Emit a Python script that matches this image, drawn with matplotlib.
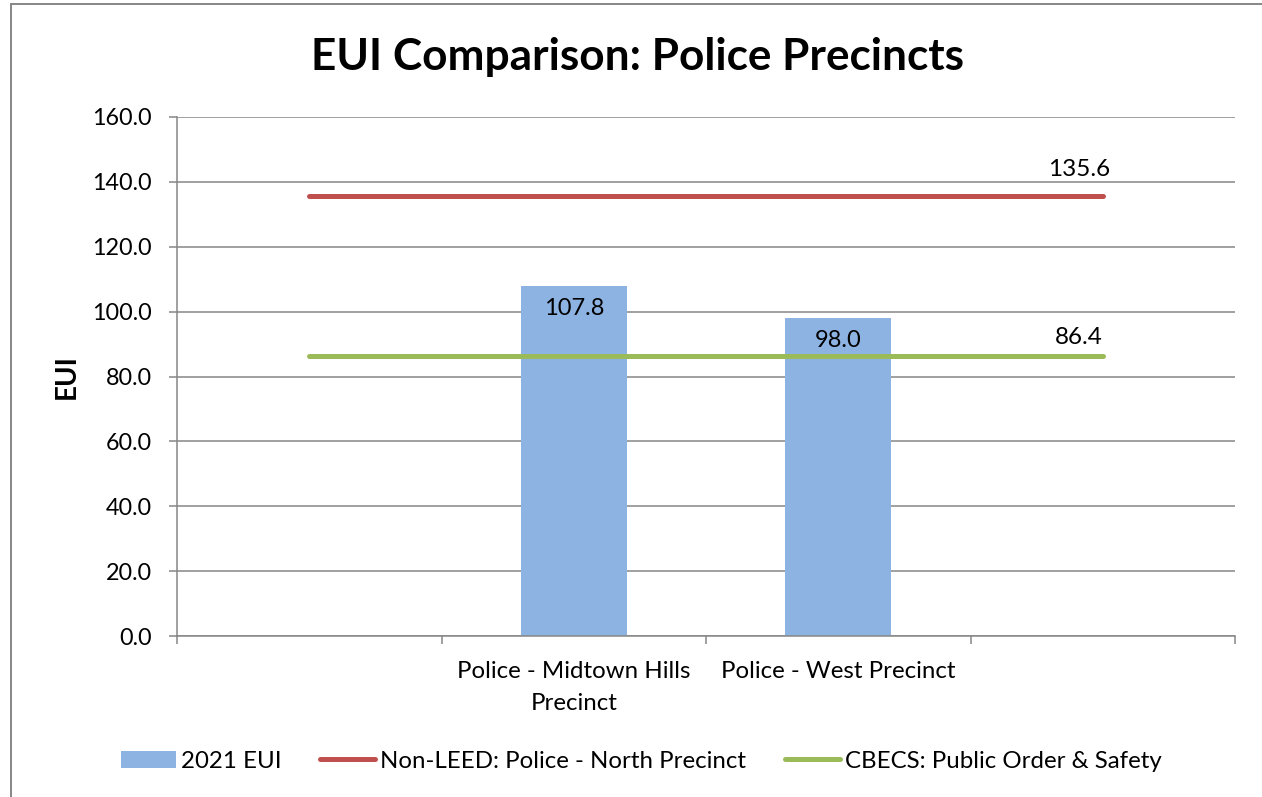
import matplotlib
matplotlib.use("Agg")
import matplotlib.pyplot as plt
from matplotlib.patches import Rectangle
from matplotlib.lines import Line2D
from matplotlib.patches import Patch

plt.rcParams['font.family'] = ['Lato', 'DejaVu Sans']

# chart data
categories = ["", "Police - Midtown Hills\nPrecinct", "Police - West Precinct", ""]
eui_2021 = [None, 107.8, 98.0, None]
non_leed_north = [135.6, 135.6, 135.6, 135.6]
cbecs_public_safety = [86.4, 86.4, 86.4, 86.4]
y_ticks = [0, 20, 40, 60, 80, 100, 120, 140, 160]

BLUE = "#8DB3E2"
RED = "#C0504D"
GREEN = "#9BBB59"
GRAY = "#868686"

fig = plt.figure(figsize=(12.62, 7.97), dpi=100)
ax = fig.add_axes([0.1403, 0.202, 0.8383, 0.6512])

x = list(range(len(categories)))
bar_x = [i for i, v in zip(x, eui_2021) if v is not None]
bar_v = [v for v in eui_2021 if v is not None]
bars = ax.bar(bar_x, bar_v, width=0.4, color=BLUE, zorder=2)
for bx, bv in zip(bar_x, bar_v):
    ax.annotate(f"{bv:.1f}", (bx, bv), xytext=(0, -22), textcoords="offset pixels",
                ha="center", va="center", fontsize=17, zorder=4)

ax.plot(x, non_leed_north, color=RED, lw=3.6, solid_capstyle="round", zorder=3)
ax.plot(x, cbecs_public_safety, color=GREEN, lw=3.6, solid_capstyle="round", zorder=3)
ax.annotate(f"{non_leed_north[-1]:.1f}", (x[-1], non_leed_north[-1]), xytext=(-24, 27),
            textcoords="offset pixels", ha="center", va="center", fontsize=17.5, zorder=4)
ax.annotate(f"{cbecs_public_safety[-1]:.1f}", (x[-1], cbecs_public_safety[-1]), xytext=(-24, 18),
            textcoords="offset pixels", ha="center", va="center", fontsize=17.5, zorder=4)

ax.set_xlim(-0.5, len(categories) - 0.5)
ax.set_ylim(0, 160)
ax.set_yticks(y_ticks)
ax.set_yticklabels([f"{t:.1f}" for t in y_ticks], fontsize=16.8)
ax.yaxis.grid(True, color=GRAY, lw=1.1, zorder=0)
ax.set_axisbelow(True)

# category labels at centres, tick marks at boundaries
ax.set_xticks(x)
ax.set_xticklabels(categories, fontsize=17.3, linespacing=1.62)
ax.set_xticks([i - 0.5 for i in range(len(categories) + 1)], minor=True)
ax.tick_params(axis="x", which="major", length=0, pad=18)
ax.tick_params(axis="x", which="minor", length=6, width=1.1, color=GRAY)
ax.tick_params(axis="y", length=6, width=1.1, color=GRAY, pad=12)

for side in ("top", "right"):
    ax.spines[side].set_visible(False)
for side in ("left", "bottom"):
    ax.spines[side].set_color(GRAY)
    ax.spines[side].set_linewidth(1.1)

fig.text(0.505, 0.912, "EUI Comparison: Police Precincts", ha="center", va="baseline",
         fontsize=31.8, fontweight="bold")
fig.text(0.053, 0.528, "EUI", rotation=90, ha="center", va="center",
         fontsize=20, fontweight="bold")

handles = [
    Patch(facecolor=BLUE, edgecolor="none", label="2021 EUI"),
    Line2D([], [], color=RED, lw=3.6, solid_capstyle="round", label="Non-LEED: Police - North Precinct"),
    Line2D([], [], color=GREEN, lw=3.6, solid_capstyle="round", label="CBECS: Public Order & Safety"),
]
fig.legend(handles=handles, loc="center", bbox_to_anchor=(0.508, 0.045), ncol=3,
           frameon=False, fontsize=17.3, handlelength=2.3, handletextpad=0.2,
           columnspacing=1.6)

# outer chart border
fig.add_artist(Rectangle((11 / 1262, -0.1), 1.2, 1.1 - 4 / 797, transform=fig.transFigure,
                         fill=False, edgecolor=GRAY, lw=1.4))

fig.savefig("out.png", dpi=100)
